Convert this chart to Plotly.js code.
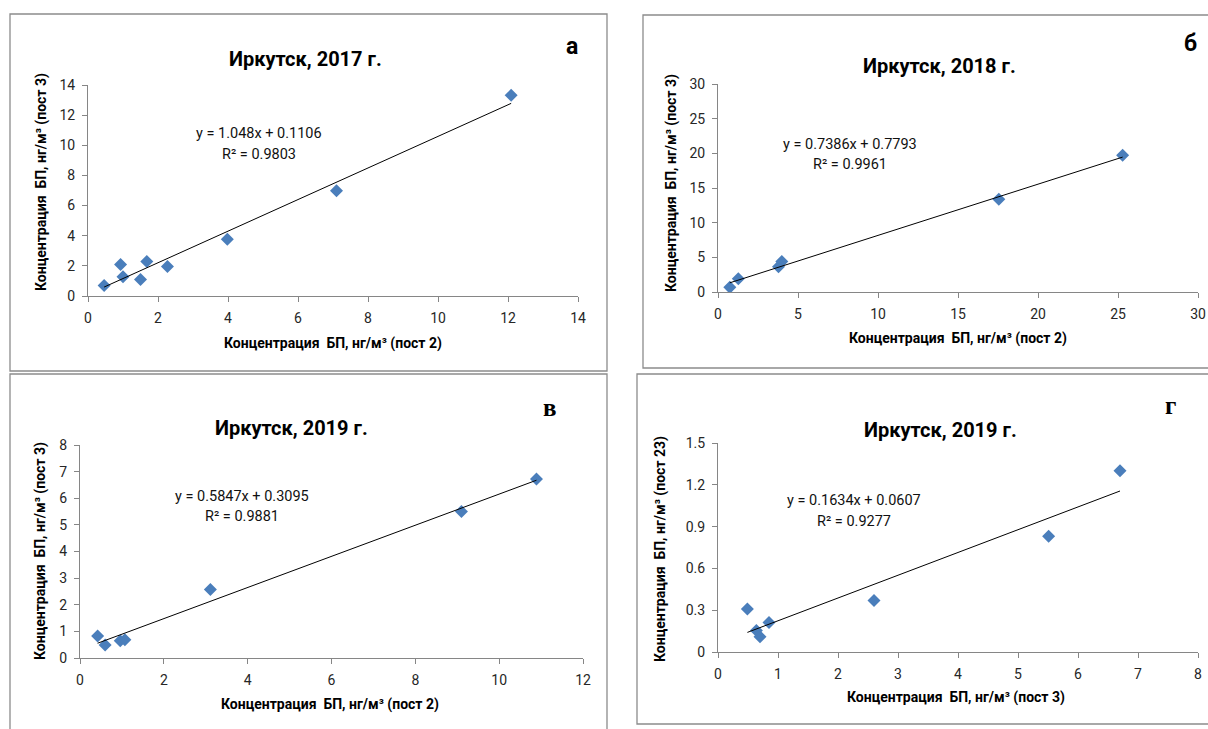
<!DOCTYPE html>
<html>
<head>
<meta charset="utf-8">
<script src="https://cdn.plot.ly/plotly-3.0.1.min.js"></script>
<style>html,body{margin:0;padding:0;background:#fff;}#chart{width:1208px;height:729px;}</style>
</head>
<body>
<div id="chart"></div>
<script>
// ---- data ----
// Panel а: Иркутск, 2017 (пост 2 vs пост 3)
const xA = [0.46, 0.93, 1.0, 1.5, 1.68, 2.27, 3.98, 7.1, 12.09];
const yA = [0.70, 2.09, 1.27, 1.10, 2.29, 1.96, 3.76, 6.99, 13.32];
// Panel б: Иркутск, 2018 (пост 2 vs пост 3)
const xB = [0.74, 1.27, 3.78, 3.99, 17.55, 25.29];
const yB = [0.67, 1.91, 3.63, 4.40, 13.38, 19.73];
// Panel в: Иркутск, 2019 (пост 2 vs пост 3)
const xV = [0.42, 0.60, 0.96, 1.07, 3.11, 9.10, 10.89];
const yV = [0.83, 0.49, 0.65, 0.69, 2.57, 5.50, 6.72];
// Panel г: Иркутск, 2019 (пост 3 vs пост 23)
const xG = [0.49, 0.64, 0.70, 0.85, 2.60, 5.51, 6.70];
const yG = [0.308, 0.155, 0.11, 0.212, 0.37, 0.83, 1.30];

// linear trend coefficients shown on the chart
const slopes = [1.048, 0.7386, 0.5847, 0.1634];
const intercepts = [0.1106, 0.7793, 0.3095, 0.0607];
const equations = ["y = 1.048x + 0.1106", "y = 0.7386x + 0.7793", "y = 0.5847x + 0.3095", "y = 0.1634x + 0.0607"];
const r2Labels = ["R² = 0.9803", "R² = 0.9961", "R² = 0.9881", "R² = 0.9277"];
const titles = ["Иркутск, 2017 г.", "Иркутск, 2018 г.", "Иркутск, 2019 г.", "Иркутск, 2019 г."];
const letters = ["а", "б", "в", "г"];
const xTitles = ["Концентрация  БП, нг/м³ (пост 2)", "Концентрация  БП, нг/м³ (пост 2)", "Концентрация  БП, нг/м³ (пост 2)", "Концентрация  БП, нг/м³ (пост 3)"];
const yTitles = ["Концентрация  БП, нг/м³ (пост 3)", "Концентрация  БП, нг/м³ (пост 3)", "Концентрация  БП, нг/м³ (пост 3)", "Концентрация  БП, нг/м³ (пост 23)"];

// ---- layout helpers ----
const W = 1208, H = 729;
const px = v => v / W;
const py = v => 1 - v / H;

const xs = [xA, xB, xV, xG];
const ys = [yA, yB, yV, yG];
const axisIds = [["x", "y"], ["x2", "y2"], ["x3", "y3"], ["x4", "y4"]];

const traces = [];
for (let i = 0; i < 4; i++) {
  traces.push({
    type: "scatter", mode: "markers", x: xs[i], y: ys[i],
    xaxis: axisIds[i][0], yaxis: axisIds[i][1],
    marker: {symbol: "diamond", size: 10, color: "#4A7EBB"},
    showlegend: false, hoverinfo: "x+y"
  });
  const x0 = Math.min(...xs[i]), x1 = Math.max(...xs[i]);
  traces.push({
    type: "scatter", mode: "lines", x: [x0, x1],
    y: [slopes[i] * x0 + intercepts[i], slopes[i] * x1 + intercepts[i]],
    xaxis: axisIds[i][0], yaxis: axisIds[i][1],
    line: {color: "#000000", width: 1},
    showlegend: false, hoverinfo: "skip"
  });
}

const tickFont = {family: "Roboto, 'Open Sans', sans-serif", size: 14, color: "#262626"};
function xax(domain, range, dtick, anchor) {
  return {domain, range, dtick, tick0: 0, anchor, showgrid: false, zeroline: false,
    showline: true, linecolor: "#868686", linewidth: 1, ticks: "outside", ticklen: 5,
    tickcolor: "#868686", tickfont: tickFont, ticklabelstandoff: 4, fixedrange: true};
}
function yax(domain, range, dtick, anchor, fmt) {
  const o = xax(domain, range, dtick, anchor);
  if (fmt) o.tickformat = fmt;
  return o;
}

// plot areas (pixel boxes)
const boxes = [
  {l: 88, r: 578, t: 85, b: 296},
  {l: 718, r: 1198, t: 84, b: 292},
  {l: 80, r: 583, t: 445, b: 658},
  {l: 718, r: 1198, t: 443, b: 652}
];
const dom = boxes.map(b => ({x: [px(b.l), px(b.r)], y: [py(b.b), py(b.t)]}));

const layout = {
  width: W, height: H,
  margin: {l: 0, r: 0, t: 0, b: 0},
  paper_bgcolor: "#ffffff", plot_bgcolor: "rgba(0,0,0,0)",
  showlegend: false,
  xaxis: xax(dom[0].x, [0, 14], 2, "y"),
  yaxis: yax(dom[0].y, [0, 14], 2, "x"),
  xaxis2: xax(dom[1].x, [0, 30], 5, "y2"),
  yaxis2: yax(dom[1].y, [0, 30], 5, "x2"),
  xaxis3: xax(dom[2].x, [0, 12], 2, "y3"),
  yaxis3: yax(dom[2].y, [0, 8], 1, "x3"),
  xaxis4: xax(dom[3].x, [0, 8], 1, "y4"),
  yaxis4: yax(dom[3].y, [0, 1.5], 0.3, "x4", ".1~f"),
  shapes: [],
  annotations: []
};

// frames around each chart
const frames = [
  {l: 10, r: 607, t: 14, b: 371},
  {l: 643, r: 1212, t: 15, b: 368},
  {l: 10, r: 607, t: 374, b: 732},
  {l: 637, r: 1212, t: 374, b: 724}
];
frames.forEach(f => layout.shapes.push({
  type: "rect", xref: "paper", yref: "paper",
  x0: px(f.l), x1: px(f.r), y0: py(f.b), y1: py(f.t),
  line: {color: "#8c8c8c", width: 1.3}, fillcolor: "rgba(0,0,0,0)"
}));

// text positions (pixels)
const titlePos = [[305, 59], [939, 66], [291, 428], [940, 430]];
const letterPos = [[572, 46], [1190, 43], [550, 407], [1170, 405]];
const eqPos = [[259, 134], [850, 144], [242, 496], [854, 500]];
const r2Pos = [[259, 155], [850, 164], [242, 516], [854, 521]];
const xtPos = [[333, 343], [958, 338], [330, 704], [956, 697]];
const ytPos = [[41, 182], [671, 183], [40, 551], [660, 549]];
const sans = "Roboto, 'Open Sans', sans-serif";

function ann(text, p, font, extra) {
  layout.annotations.push(Object.assign({
    text, xref: "paper", yref: "paper", x: px(p[0]), y: py(p[1]),
    xanchor: "center", yanchor: "middle", showarrow: false, font
  }, extra || {}));
}
for (let i = 0; i < 4; i++) {
  ann(titles[i], titlePos[i], {family: sans, size: 20, color: "#000", weight: "bold"});
  const serif = i >= 2;
  ann(letters[i], letterPos[i], serif
    ? {family: "'Liberation Serif', 'DejaVu Serif', serif", size: 25, color: "#000", weight: "bold"}
    : {family: sans, size: 23, color: "#000", weight: "bold"});
  ann(equations[i], eqPos[i], {family: sans, size: 14.5, color: "#111"});
  ann(r2Labels[i], r2Pos[i], {family: sans, size: 14.5, color: "#111"});
  ann(xTitles[i], xtPos[i], {family: sans, size: 14, color: "#000", weight: "bold"});
  ann(yTitles[i], ytPos[i], {family: sans, size: 14, color: "#000", weight: "bold"}, {textangle: -90});
}

Plotly.newPlot("chart", traces, layout, {displayModeBar: false, staticPlot: true});
</script>
</body>
</html>
